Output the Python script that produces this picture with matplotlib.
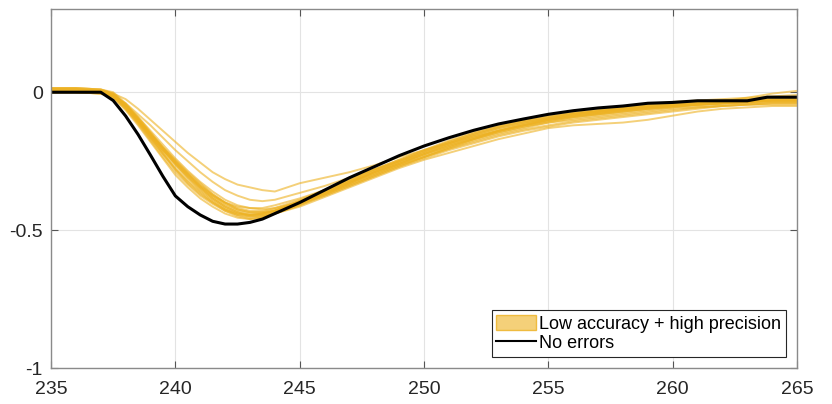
import matplotlib
matplotlib.use("Agg")
import matplotlib.pyplot as plt
from matplotlib.patches import Patch
from matplotlib.lines import Line2D

plt.rcParams['font.family'] = ['Liberation Sans', 'DejaVu Sans']

# common x grid for the yellow (low accuracy + high precision) runs
x_runs = [235, 236, 237, 237.5, 238, 238.5, 239, 239.5, 240, 240.5, 241, 241.5,
          242, 242.5, 243, 243.5, 244, 245, 246, 247, 248, 249, 250, 251, 252,
          253, 254, 255, 256, 257, 258, 259, 260, 261, 262, 263, 264, 265]

run_a = [0.01, 0.01, 0.005, -0.005, -0.025, -0.06, -0.10, -0.14, -0.18, -0.22, -0.255, -0.29,
         -0.315, -0.335, -0.345, -0.355, -0.36, -0.33, -0.31, -0.29, -0.265, -0.235, -0.21, -0.185,
         -0.16, -0.14, -0.12, -0.10, -0.085, -0.075, -0.065, -0.055, -0.05, -0.045, -0.04, -0.035, -0.03, -0.03]
run_b = [0.0, 0.0, -0.005, -0.015, -0.04, -0.08, -0.12, -0.165, -0.21, -0.25, -0.29, -0.325,
         -0.355, -0.375, -0.39, -0.395, -0.39, -0.365, -0.34, -0.31, -0.28, -0.25, -0.22, -0.19,
         -0.165, -0.14, -0.12, -0.105, -0.09, -0.08, -0.07, -0.06, -0.055, -0.05, -0.045, -0.04, -0.035, -0.035]
run_c = [0.0, 0.0, 0.0, -0.02, -0.065, -0.12, -0.18, -0.24, -0.3, -0.345, -0.385, -0.415,
         -0.44, -0.455, -0.46, -0.455, -0.44, -0.405, -0.365, -0.325, -0.285, -0.25, -0.215, -0.18,
         -0.15, -0.125, -0.105, -0.09, -0.078, -0.068, -0.06, -0.052, -0.046, -0.04, -0.036, -0.032, -0.028, -0.028]
run_d = [0.015, 0.015, 0.01, -0.005, -0.045, -0.1, -0.16, -0.22, -0.28, -0.33, -0.37, -0.4,
         -0.425, -0.44, -0.445, -0.44, -0.43, -0.4, -0.365, -0.33, -0.29, -0.255, -0.225, -0.195,
         -0.165, -0.14, -0.12, -0.1, -0.085, -0.075, -0.065, -0.055, -0.05, -0.045, -0.04, -0.035, -0.03, -0.03]
run_e = [0.005, 0.005, 0.0, -0.01, -0.05, -0.1, -0.155, -0.21, -0.26, -0.305, -0.345, -0.38,
         -0.41, -0.43, -0.44, -0.44, -0.43, -0.395, -0.36, -0.325, -0.29, -0.26, -0.23, -0.2,
         -0.17, -0.145, -0.125, -0.105, -0.09, -0.08, -0.07, -0.06, -0.05, -0.045, -0.04, -0.038, -0.035, -0.035]
run_f = [0.0, 0.0, 0.0, -0.015, -0.055, -0.105, -0.16, -0.21, -0.255, -0.3, -0.34, -0.375,
         -0.4, -0.415, -0.42, -0.42, -0.41, -0.385, -0.355, -0.32, -0.285, -0.25, -0.215, -0.185,
         -0.155, -0.13, -0.11, -0.095, -0.08, -0.07, -0.06, -0.05, -0.045, -0.04, -0.035, -0.03, -0.025, -0.02]
run_g = [0.01, 0.01, 0.005, -0.01, -0.055, -0.11, -0.17, -0.225, -0.275, -0.32, -0.36, -0.395,
         -0.425, -0.445, -0.455, -0.45, -0.435, -0.405, -0.37, -0.335, -0.3, -0.265, -0.235, -0.205,
         -0.18, -0.155, -0.135, -0.12, -0.105, -0.095, -0.085, -0.075, -0.065, -0.055, -0.05, -0.045, -0.045, -0.045]
run_h = [0.0, 0.0, -0.005, -0.02, -0.06, -0.11, -0.165, -0.215, -0.265, -0.31, -0.35, -0.385,
         -0.415, -0.435, -0.445, -0.445, -0.44, -0.415, -0.38, -0.345, -0.31, -0.275, -0.245, -0.22,
         -0.195, -0.17, -0.15, -0.13, -0.12, -0.115, -0.11, -0.1, -0.085, -0.07, -0.06, -0.055, -0.05, -0.05]
run_i = [0.015, 0.015, 0.01, 0.0, -0.04, -0.09, -0.145, -0.2, -0.25, -0.295, -0.335, -0.37,
         -0.4, -0.42, -0.43, -0.43, -0.42, -0.39, -0.355, -0.32, -0.28, -0.245, -0.21, -0.175,
         -0.145, -0.12, -0.1, -0.085, -0.075, -0.065, -0.055, -0.045, -0.035, -0.03, -0.025, -0.02, -0.015, -0.01]
run_j = [0.005, 0.005, 0.005, -0.01, -0.05, -0.1, -0.155, -0.205, -0.255, -0.3, -0.345, -0.385,
         -0.415, -0.435, -0.45, -0.45, -0.44, -0.41, -0.37, -0.33, -0.29, -0.255, -0.22, -0.185,
         -0.155, -0.13, -0.11, -0.095, -0.082, -0.072, -0.063, -0.055, -0.048, -0.042, -0.037, -0.032, -0.028, -0.025]
run_k = [0.0, 0.0, 0.0, -0.01, -0.045, -0.09, -0.14, -0.19, -0.24, -0.285, -0.325, -0.36,
         -0.39, -0.41, -0.42, -0.425, -0.42, -0.4, -0.37, -0.335, -0.3, -0.265, -0.235, -0.205,
         -0.175, -0.15, -0.13, -0.11, -0.095, -0.085, -0.075, -0.065, -0.055, -0.045, -0.04, -0.035, -0.03, -0.03]
run_l = [0.01, 0.01, 0.005, -0.01, -0.06, -0.115, -0.175, -0.235, -0.29, -0.335, -0.375, -0.405,
         -0.43, -0.445, -0.45, -0.445, -0.43, -0.395, -0.355, -0.315, -0.28, -0.245, -0.21, -0.18,
         -0.15, -0.125, -0.105, -0.09, -0.075, -0.065, -0.055, -0.045, -0.04, -0.035, -0.03, -0.025, -0.02, -0.02]
run_m = [0.0, 0.0, -0.005, -0.015, -0.05, -0.1, -0.15, -0.2, -0.245, -0.29, -0.33, -0.37,
         -0.4, -0.425, -0.435, -0.435, -0.425, -0.395, -0.36, -0.325, -0.295, -0.26, -0.225, -0.195,
         -0.17, -0.145, -0.125, -0.11, -0.1, -0.09, -0.08, -0.07, -0.06, -0.055, -0.05, -0.045, -0.04, -0.04]
run_n = [0.015, 0.015, 0.01, -0.005, -0.045, -0.095, -0.15, -0.205, -0.26, -0.31, -0.355, -0.39,
         -0.42, -0.44, -0.445, -0.44, -0.43, -0.4, -0.365, -0.33, -0.295, -0.26, -0.225, -0.19,
         -0.16, -0.135, -0.115, -0.1, -0.088, -0.078, -0.068, -0.06, -0.052, -0.045, -0.04, -0.035, -0.03, -0.03]
run_o = [0.005, 0.005, 0.0, -0.01, -0.05, -0.105, -0.165, -0.225, -0.28, -0.325, -0.365, -0.4,
         -0.43, -0.45, -0.46, -0.455, -0.44, -0.41, -0.375, -0.34, -0.305, -0.27, -0.24, -0.21,
         -0.185, -0.16, -0.14, -0.125, -0.11, -0.1, -0.09, -0.08, -0.07, -0.06, -0.05, -0.045, -0.04, -0.04]
run_p = [0.0, 0.0, 0.0, -0.01, -0.045, -0.095, -0.15, -0.2, -0.25, -0.295, -0.34, -0.375,
         -0.405, -0.425, -0.435, -0.435, -0.43, -0.405, -0.375, -0.34, -0.305, -0.27, -0.235, -0.2,
         -0.17, -0.14, -0.115, -0.095, -0.08, -0.07, -0.06, -0.05, -0.043, -0.038, -0.033, -0.02, -0.005, 0.005]

runs = [run_a, run_b, run_c, run_d, run_e, run_f, run_g, run_h,
        run_i, run_j, run_k, run_l, run_m, run_n, run_o, run_p]

# reference (no errors) trajectory
x_ref = [235, 236, 237, 237.5, 238, 238.5, 239, 239.5, 240, 240.5, 241, 241.5, 242,
         242.5, 243, 243.5, 244, 244.5, 245, 246, 247, 248, 249, 250, 251, 252, 253,
         254, 255, 256, 257, 258, 259, 260, 261, 262, 263, 263.8, 265]
y_ref = [0.0, 0.0, 0.0, -0.03, -0.086, -0.153, -0.228, -0.305, -0.376, -0.415, -0.445,
         -0.468, -0.478, -0.478, -0.472, -0.46, -0.44, -0.42, -0.40, -0.355, -0.31, -0.27,
         -0.23, -0.195, -0.165, -0.138, -0.115, -0.097, -0.08, -0.067, -0.057, -0.05, -0.04,
         -0.037, -0.031, -0.031, -0.031, -0.018, -0.018]

x_ticks = [235, 240, 245, 250, 255, 260, 265]
y_ticks = [-1, -0.5, 0]
y_tick_labels = ['-1', '-0.5', '0']
label_runs = 'Low accuracy + high precision'
label_ref = 'No errors'

yellow = (0.929, 0.694, 0.125)

fig = plt.figure(figsize=(8.32, 4.04), dpi=100)
ax = fig.add_axes([0.0613, 0.0891, 0.8967, 0.8874])

for r in runs:
    ax.plot(x_runs, r, color=yellow, alpha=0.6, lw=1.4, solid_joinstyle='miter')
ax.plot(x_ref, y_ref, color='black', lw=2.2)

ax.set_xlim(235, 265)
ax.set_ylim(-1, 0.3)
ax.set_xticks(x_ticks)
ax.set_yticks(y_ticks)
ax.set_yticklabels(y_tick_labels)
ax.grid(True, color='#e3e3e3', lw=0.8)
ax.set_axisbelow(True)
ax.tick_params(direction='in', top=True, right=True, length=5, width=0.8,
               color='#555555', labelsize=14, labelcolor='#262626')
ax.tick_params(axis='x', pad=9)
ax.tick_params(axis='y', pad=6)
for s in ax.spines.values():
    s.set_color('#8a8a8a')
    s.set_linewidth(1.0)

handles = [Patch(facecolor=yellow + (0.6,), edgecolor=yellow + (0.8,), lw=1),
           Line2D([0], [0], color='black', lw=1.5)]
leg = ax.legend(handles, [label_runs, label_ref], loc='lower right',
                bbox_to_anchor=(0.985, 0.031), borderaxespad=0, fontsize=13,
                fancybox=False, framealpha=1, edgecolor='#262626',
                handlelength=2.2, handleheight=0.95, handletextpad=0.2,
                labelspacing=0.1, borderpad=0.25)
leg.get_frame().set_linewidth(0.8)

fig.savefig('out.png', dpi=100)
